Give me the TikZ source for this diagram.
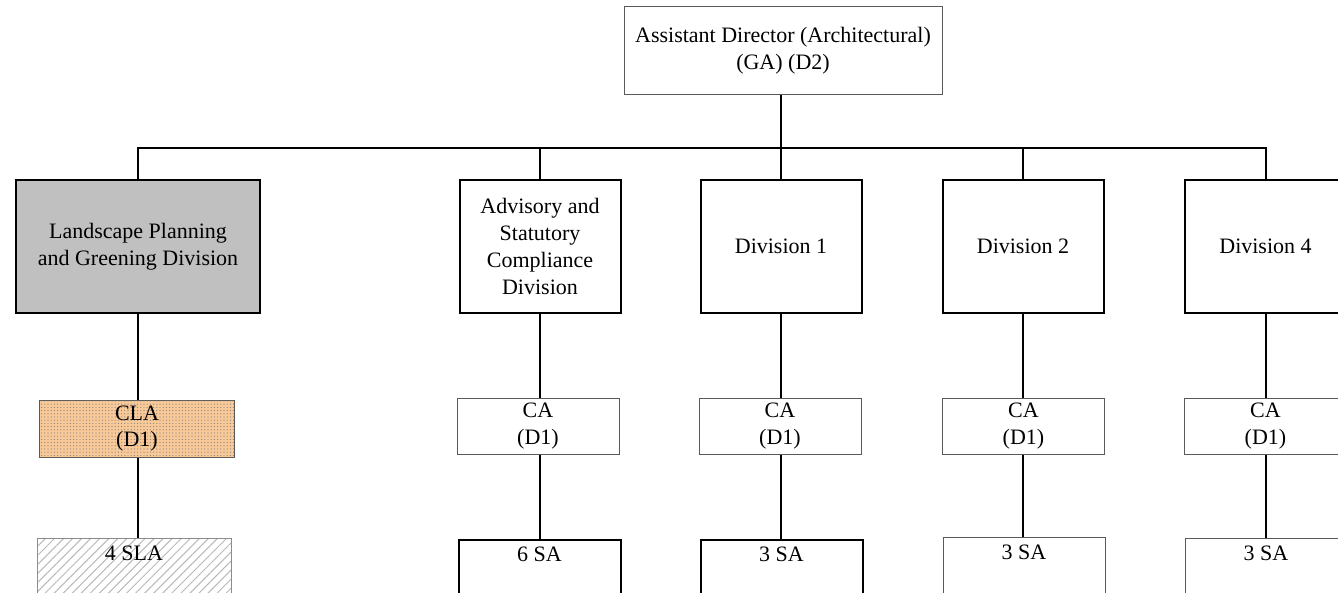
\documentclass[tikz,border=0pt]{standalone}
\usepackage{fontspec}
\setmainfont{Liberation Serif}
\usetikzlibrary{patterns.meta}
\definecolor{peach}{RGB}{250,201,152}
\definecolor{lpgray}{RGB}{192,192,192}
\tikzset{
  every node/.style={font=\fontsize{11}{13.4}\selectfont, align=center, inner sep=0pt},
  thinbox/.style={draw=black!65, line width=0.5pt, rectangle},
  thickbox/.style={draw=black, line width=1pt, rectangle},
  divbox/.style={thickbox, minimum width=80.5pt, minimum height=66.5pt},
  cabox/.style={thinbox, minimum width=81pt, minimum height=28pt},
  sabase/.style={anchor=north, minimum width=81pt, inner ysep=3pt, text height=8pt, text depth=34pt},
  conn/.style={line width=1pt, draw=black},
}
\begin{document}
\begin{tikzpicture}[x=0.5pt,y=-0.5pt]
\useasboundingbox (0,0) rectangle (1338,593);
\clip (0,0) rectangle (1338,593);

% top box
\node[thinbox, minimum width=159pt, minimum height=44pt] (ad) at (783,51)
  {Assistant Director (Architectural)\\(GA) (D2)};

% bus coordinates
\coordinate (busL) at (138,148);

% division boxes
\node[thickbox, fill=lpgray, minimum width=122pt, minimum height=66.5pt] (lp) at (138,246.5)
  {Landscape Planning\\and Greening Division};
\node[divbox] (adv) at (540,246.5) {Advisory and\\Statutory\\Compliance\\Division};
\node[divbox] (d1) at (781,246.5) {Division 1};
\node[divbox] (d2) at (1023,246.5) {Division 2};
\node[divbox] (d4) at (1265.5,246.5) {Division 4};

% CA boxes
\node[thinbox, fill=peach, postaction={pattern={Dots[distance=1.6pt,radius=0.3pt]}, pattern color=black!50},
      minimum width=97.5pt, minimum height=28.5pt] (cla) at (137,428.5) {CLA\\(D1)};
\node[cabox] (ca1) at (538,426) {CA\\(D1)};
\node[cabox] (ca2) at (780,426) {CA\\(D1)};
\node[cabox] (ca3) at (1023.5,426) {CA\\(D1)};
\node[cabox] (ca4) at (1265.5,426) {CA\\(D1)};

% SA boxes
\node[sabase, thinbox, draw=black!45, minimum width=97pt,
      pattern={Lines[angle=45,distance=3.2pt,line width=0.5pt]}, pattern color=black!28] (sla) at (134,538) {4 SLA};
\node[sabase, thickbox] (sa1) at (539.5,538.5) {6 SA};
\node[sabase, thickbox] (sa2) at (781.5,538.5) {3 SA};
\node[sabase, thinbox] (sa3) at (1024,536.5) {3 SA};
\node[sabase, thinbox] (sa4) at (1266,538) {3 SA};

% connectors: top to bus
\draw[conn] (ad.south -| d1.north) -- (d1.north |- busL);
\draw[conn] (lp.north) -- (busL) -- (busL -| d4.north) -- (d4.north);
\draw[conn] (adv.north) -- (adv.north |- busL);
\draw[conn] (d1.north) -- (d1.north |- busL);
\draw[conn] (d2.north) -- (d2.north |- busL);

% division to CA
\draw[conn] (lp.south) -- (lp.south |- cla.north);
\draw[conn] (adv.south) -- (adv.south |- ca1.north);
\draw[conn] (d1.south) -- (d1.south |- ca2.north);
\draw[conn] (d2.south) -- (d2.south |- ca3.north);
\draw[conn] (d4.south) -- (d4.south |- ca4.north);

% CA to SA
\draw[conn] (cla.south -| lp.south) -- (sla.north -| lp.south);
\draw[conn] (ca1.south -| adv.south) -- (sa1.north -| adv.south);
\draw[conn] (ca2.south -| d1.south) -- (sa2.north -| d1.south);
\draw[conn] (ca3.south -| d2.south) -- (sa3.north -| d2.south);
\draw[conn] (ca4.south -| d4.south) -- (sa4.north -| d4.south);
\end{tikzpicture}
\end{document}
